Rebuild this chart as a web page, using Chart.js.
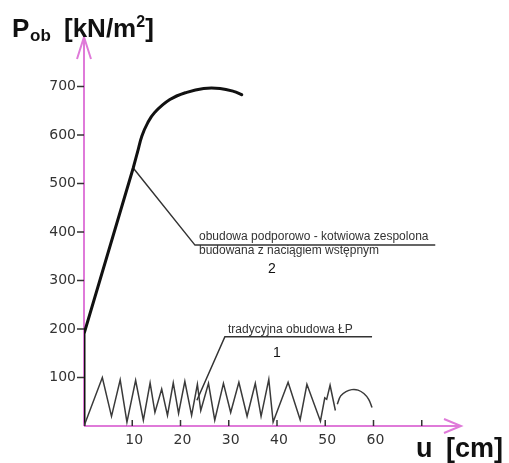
<!DOCTYPE html>
<html>
<head>
<meta charset="utf-8">
<script src="https://cdn.jsdelivr.net/npm/chart.js@4.4.0/dist/chart.umd.min.js"></script>
<style>
  html, body { margin: 0; padding: 0; background: #fff; }
  canvas { display: block; }
</style>
</head>
<body>
<canvas id="wykres" width="509" height="463"></canvas>
<script>
// krzywa 1 - tradycyjna obudowa ŁP (u [cm], P [kN/m2])
const uTrad = [0, 3.8, 5.7, 7.5, 8.9, 10.7, 12.3, 13.7, 14.7, 16.1, 17.3, 18.5, 19.6, 20.9, 22.3, 23.5, 24.2, 25.8, 27.1, 28.9, 30.4, 32.1, 33.8, 35.5, 36.7, 38.3, 39.2, 42.3, 44.8, 46.2, 49.0, 49.9, 50.3, 51.0, 52.1];
const pTrad = [0, 100, 20, 95, 8, 94, 12, 89, 28, 76, 22, 89, 26, 92, 22, 86, 32, 88, 12, 88, 28, 90, 20, 88, 20, 96, 8, 90, 13, 86, 10, 58, 55, 84, 32];
// końcowy łuk krzywej 1
const uLuk = [52.5, 53.2, 54.3, 55.5, 56.8, 58.0, 59.0, 59.7];
const pLuk = [45, 62, 71, 75, 74, 67, 55, 38];

// krzywa 2 - obudowa podporowo-kotwiowa zespolona
const uZesp = [0, 0, 10.2, 11.1];
const pZesp = [0, 190, 532, 565];
const uZespLuk = [11.1, 12.0, 13.2, 14.6, 17.8, 21.3, 24.8, 28.2, 31.0, 32.7];
const pZespLuk = [565, 598, 625, 646, 673, 688, 696, 696, 690, 683];

// linie odniesienia opisów
const uOpis2 = [10.2, 23.0, 72.8];
const pOpis2 = [532, 373, 373];
const uOpis1 = [23.4, 29.2, 59.7];
const pOpis1 = [53, 184, 184];

// podziałki osi
const yTicks = [100, 200, 300, 400, 500, 600, 700];
const xTicks = [10, 20, 30, 40, 50, 60, 70];
const xLabels = ['10', '20', '30', '40', '50', '60', ''];

const AXIS = '#df7ad9';

const pts = (xs, ys) => xs.map((x, i) => ({ x: x, y: ys[i] }));

// osie ze strzałkami, podziałki i opisy
const osie = {
    id: 'osie',
    beforeDatasetsDraw(chart) {
        const c = chart.ctx;
        const xs = chart.scales.x, ys = chart.scales.y;
        const x0 = xs.getPixelForValue(0), y0 = ys.getPixelForValue(0);
        c.save();
        c.strokeStyle = AXIS;
        c.lineWidth = 2;
        c.beginPath();
        c.moveTo(x0, y0); c.lineTo(x0, 37);
        c.moveTo(x0 - 7, 59); c.lineTo(x0, 37); c.lineTo(x0 + 7, 59);
        c.moveTo(x0, y0); c.lineTo(461, y0);
        c.moveTo(444, y0 - 7); c.lineTo(461, y0); c.lineTo(444, y0 + 7);
        c.stroke();

        c.strokeStyle = '#333';
        c.lineWidth = 1.5;
        c.fillStyle = '#333';
        c.font = '14px "DejaVu Sans"';
        c.textAlign = 'right';
        c.textBaseline = 'middle';
        yTicks.forEach(v => {
            const py = ys.getPixelForValue(v);
            c.beginPath(); c.moveTo(x0 - 7, py); c.lineTo(x0, py); c.stroke();
            c.fillText(String(v), x0 - 8, py);
        });
        c.textAlign = 'center';
        c.textBaseline = 'alphabetic';
        xTicks.forEach((v, i) => {
            const px = xs.getPixelForValue(v);
            c.beginPath(); c.moveTo(px, y0 - 6); c.lineTo(px, y0); c.stroke();
            c.fillText(xLabels[i], px + 2, y0 + 18);
        });
        c.restore();
    },
    afterDatasetsDraw(chart) {
        const c = chart.ctx;
        c.save();
        c.fillStyle = '#111';
        c.textBaseline = 'alphabetic';
        c.textAlign = 'left';
        // tytuł osi Y
        c.font = 'bold 26px "Liberation Sans"';
        c.fillText('P', 12, 37);
        c.font = 'bold 17px "Liberation Sans"';
        c.fillText('ob', 30, 41);
        c.font = 'bold 26px "Liberation Sans"';
        c.fillText('[kN/m', 64, 37);
        let w = c.measureText('[kN/m').width;
        c.font = 'bold 16px "Liberation Sans"';
        c.fillText('2', 64 + w, 27);
        let w2 = c.measureText('2').width;
        c.font = 'bold 26px "Liberation Sans"';
        c.fillText(']', 64 + w + w2, 37);
        // tytuł osi X
        c.font = 'bold 27px "Liberation Sans"';
        c.fillText('u', 416, 457);
        c.fillText('[cm]', 446, 457);

        // opisy krzywych
        c.fillStyle = '#333';
        c.font = '12px "Liberation Sans"';
        c.fillText('obudowa podporowo - kotwiowa zespolona', 199, 240);
        c.fillText('budowana z naciągiem wstępnym', 199, 254);
        c.fillText('tradycyjna obudowa ŁP', 228, 333);
        c.fillStyle = '#111';
        c.font = '14px "Liberation Sans"';
        c.textAlign = 'center';
        c.fillText('2', 272, 273);
        c.fillText('1', 277, 357);
        c.restore();
    }
};

new Chart(document.getElementById('wykres'), {
    type: 'scatter',
    data: {
        datasets: [
            { data: pts(uTrad, pTrad), showLine: true, borderColor: '#3a3a3a', borderWidth: 1.5, pointRadius: 0, tension: 0 },
            { data: pts(uLuk, pLuk), showLine: true, borderColor: '#3a3a3a', borderWidth: 1.5, pointRadius: 0, tension: 0.4 },
            { data: pts(uZesp, pZesp), showLine: true, borderColor: '#111', borderWidth: 3, pointRadius: 0, tension: 0 },
            { data: pts(uZespLuk, pZespLuk), showLine: true, borderColor: '#111', borderWidth: 3, pointRadius: 0, tension: 0.4, borderCapStyle: 'round' },
            { data: pts(uOpis2, pOpis2), showLine: true, borderColor: '#333', borderWidth: 1.5, pointRadius: 0, tension: 0 },
            { data: pts(uOpis1, pOpis1), showLine: true, borderColor: '#333', borderWidth: 1.5, pointRadius: 0, tension: 0 }
        ]
    },
    options: {
        responsive: false,
        animation: false,
        layout: { padding: { left: 84, right: 39, top: 38, bottom: 37 } },
        plugins: { legend: { display: false }, tooltip: { enabled: false } },
        scales: {
            x: { type: 'linear', min: 0, max: 80, display: false },
            y: { type: 'linear', min: 0, max: 800, display: false }
        }
    },
    plugins: [osie]
});
</script>
</body>
</html>
